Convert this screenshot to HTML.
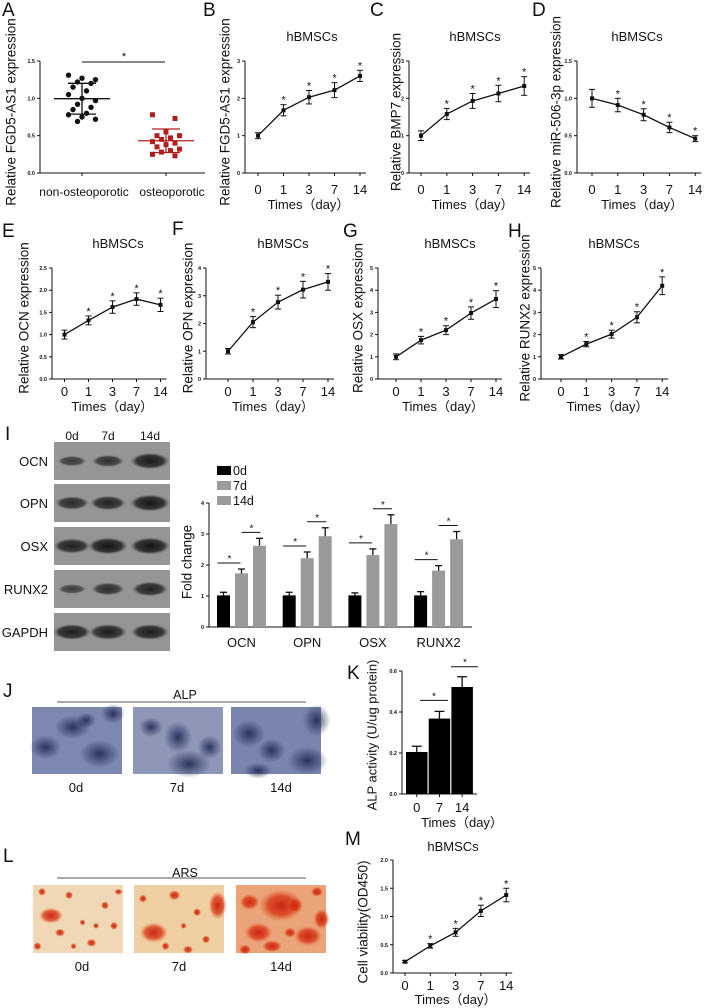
<!DOCTYPE html>
<html><head><meta charset="utf-8"><style>
html,body{margin:0;padding:0;background:#fff;}
svg{display:block;font-family:"Liberation Sans",Arial,sans-serif;}
</style></head><body>
<svg id="fig" width="709" height="1008" viewBox="0 0 709 1008" xmlns="http://www.w3.org/2000/svg">
<defs>
<radialGradient id="blueDark"><stop offset="0" stop-color="#1c2450" stop-opacity="0.85"/><stop offset="1" stop-color="#1c2450" stop-opacity="0"/></radialGradient>
<radialGradient id="redDot"><stop offset="0" stop-color="#c8200c" stop-opacity="0.95"/><stop offset="0.6" stop-color="#d83a18" stop-opacity="0.8"/><stop offset="1" stop-color="#e06030" stop-opacity="0"/></radialGradient>
<radialGradient id="band"><stop offset="0" stop-color="#151515"/><stop offset="0.7" stop-color="#2a2a2a" stop-opacity="0.9"/><stop offset="1" stop-color="#555" stop-opacity="0"/></radialGradient>
</defs>
</svg>
<script>
// ---------- DATA ----------
const aNonOsteo = [1.31,1.27,1.25,1.22,1.2,1.15,1.1,1.05,1.0,0.97,0.92,0.88,0.85,0.8,0.78,0.75,0.72,0.69];
const aOsteo = [0.78,0.73,0.55,0.5,0.5,0.47,0.45,0.42,0.4,0.38,0.35,0.32,0.3,0.28,0.25,0.23];
const aCategories = ["non-osteoporotic","osteoporotic"];
const timeCats = ["0","1","3","7","14"];
const bVals = [1.0,1.68,2.03,2.22,2.6];   const bErr = [0.08,0.15,0.18,0.2,0.15];
const cVals = [1.0,1.58,1.93,2.13,2.33];  const cErr = [0.13,0.15,0.2,0.22,0.25];
const dVals = [1.0,0.91,0.78,0.61,0.46];  const dErr = [0.12,0.09,0.08,0.07,0.04];
const eVals = [1.0,1.32,1.62,1.8,1.67];   const eErr = [0.1,0.1,0.14,0.14,0.15];
const fVals = [1.0,2.05,2.77,3.22,3.5];   const fErr = [0.1,0.2,0.25,0.3,0.3];
const gVals = [1.0,1.75,2.2,2.97,3.6];    const gErr = [0.13,0.17,0.2,0.28,0.38];
const hVals = [1.0,1.57,2.02,2.78,4.2];   const hErr = [0.1,0.12,0.18,0.25,0.4];
const mVals = [0.2,0.48,0.72,1.1,1.38];   const mErr = [0.02,0.04,0.07,0.1,0.12];
const iGroups = ["OCN","OPN","OSX","RUNX2"];
const iSeries = ["0d","7d","14d"];
const i0d = [1.02,1.02,1.02,1.02];  const i0dErr = [0.1,0.1,0.08,0.12];
const i7d = [1.73,2.22,2.32,1.82];  const i7dErr = [0.14,0.2,0.2,0.16];
const i14d = [2.62,2.93,3.32,2.83]; const i14dErr = [0.24,0.27,0.3,0.25];
const kCats = ["0","7","14"];
const kVals = [0.205,0.368,0.522]; const kErr = [0.028,0.035,0.05];
const blotProteins = ["OCN","OPN","OSX","RUNX2","GAPDH"];
const blotIntensity = [[0.45,0.6,0.95],[0.7,0.8,1.0],[0.85,1.0,1.0],[0.4,0.65,0.8],[0.9,0.9,0.9]];

// ---------- HELPERS ----------
const NS="http://www.w3.org/2000/svg";
const svg=document.getElementById('fig');
function mk(tag,attrs,parent){const e=document.createElementNS(NS,tag);for(const k in attrs)e.setAttribute(k,attrs[k]);(parent||svg).appendChild(e);return e;}
function txt(s,x,y,size,name,extra,parent){
  const e=mk('text',Object.assign({x:x,y:y,'font-size':size,'text-anchor':'middle',fill:'#111'},extra||{}),parent);
  e.textContent=s;
  
  
  return e;
}
function line(x1,y1,x2,y2,name,w,parent){
  const e=mk('line',{x1:x1,y1:y1,x2:x2,y2:y2,stroke:'#111','stroke-width':w||1},parent);
  
  
  return e;
}
function grp(name){const g=mk('g',{});
  
  
  return g;}
function yTitle(s,x,cy,size,name,parent){
  const e=txt(s,x,cy,size,name,{transform:'rotate(-90 '+x+' '+cy+')','dominant-baseline':'middle'},parent);return e;}
function yAxis(g,ax,yTop,y0,max,step,dec,prefix){
  line(ax,yTop,ax,y0,prefix+'-y-axis',1,g);
  for(let v=0;v<=max+1e-9;v+=step){
    const y=y0-v/max*(y0-yTop);
    line(ax-3,y,ax,y,prefix+'-y-tick',1,g);
    txt(v.toFixed(dec),ax-5,y+2,5.5,prefix+'-y-tick-label',{'text-anchor':'end','font-weight':'bold'},g);
  }
}

// ---------- LINE CHARTS ----------
function lineChart(o,vals,errs){
  const g=grp(o.name);
  const sy=v=>o.y0-v/o.max*(o.y0-o.yTop);
  const sx=i=>o.ax+o.first+i*o.step;
  const xEnd=sx(timeCats.length-1)+6;
  yAxis(g,o.ax,o.yTop,o.y0,o.max,o.tick,o.dec,o.name);
  line(o.ax,o.y0,xEnd,o.y0,o.name+'-x-axis',1,g);
  timeCats.forEach((c,i)=>{
    line(sx(i),o.y0,sx(i),o.y0+3,o.name+'-x-tick',1,g);
    txt(c,sx(i),o.y0+o.lo,13,o.name+'-x-tick-label',{},g);
  });
  txt('Times（day）',(o.ax+xEnd)/2+3,o.y0+o.to,13,o.name+'-x-axis-title',{},g);
  txt('hBMSCs',o.titleX,o.titleY,13,o.name+'-title',{},g);
  yTitle(o.ytitle,o.ytX,o.ytY,13.5,o.name+'-y-axis-title',g);
  txt(o.letter,o.lx,o.ly,19,o.name+'-panel-label',{'text-anchor':'start'},g);
  const pts=vals.map((v,i)=>sx(i)+','+sy(v)).join(' ');
  const pl=mk('polyline',{points:pts,fill:'none',stroke:'#111','stroke-width':1.3},g);
  
  
  vals.forEach((v,i)=>{
    const x=sx(i),yt=sy(v+errs[i]),yb=sy(v-errs[i]);
    line(x,yt,x,yb,o.name+'-error-bar',1,g);
    line(x-3,yt,x+3,yt,o.name+'-error-cap',1,g);
    line(x-3,yb,x+3,yb,o.name+'-error-cap',1,g);
    const p=mk('rect',{x:x-2,y:sy(v)-2,width:4,height:4,fill:'#111'},g);
    
    
    if(i>0) txt('*',x,yt-1,11,o.name+'-significance-star',{},g);
  });
}
const r1={yTop:61,y0:173,titleY:41,ytY:112,lo:21,to:36};
lineChart(Object.assign({name:'panel-b',ax:245,first:13,step:25.5,max:3,tick:1,dec:0,titleX:312,ytitle:'Relative FGD5-AS1 expression',ytX:226,letter:'B',lx:203,ly:16},r1),bVals,bErr);
lineChart(Object.assign({name:'panel-c',ax:409,first:12,step:25.8,max:3,tick:1,dec:0,titleX:475,ytitle:'Relative BMP7 expression',ytX:397,letter:'C',lx:370,ly:16},r1),cVals,cErr);
lineChart(Object.assign({name:'panel-d',ax:577,first:15,step:25.8,max:1.5,tick:0.5,dec:1,titleX:637,ytitle:'Relative miR-506-3p expression',ytX:557,letter:'D',lx:532,ly:16},r1),dVals,dErr);
const r2={yTop:268,y0:379,titleY:248,ytY:318,lo:17,to:32};
lineChart(Object.assign({name:'panel-e',ax:52,first:12.5,step:24,max:2.5,tick:0.5,dec:1,titleX:118,ytitle:'Relative OCN expression',ytX:25,letter:'E',lx:2,ly:237},r2),eVals,eErr);
lineChart(Object.assign({name:'panel-f',ax:206,first:22,step:25,max:4,tick:1,dec:0,titleX:283,ytitle:'Relative OPN expression',ytX:189,letter:'F',lx:172,ly:235},r2),fVals,fErr);
lineChart(Object.assign({name:'panel-g',ax:378,first:18,step:25,max:5,tick:1,dec:0,titleX:450,ytitle:'Relative OSX expression',ytX:359,letter:'G',lx:343,ly:237},r2),gVals,gErr);
lineChart(Object.assign({name:'panel-h',ax:541,first:20,step:25.3,max:5,tick:1,dec:0,titleX:614,ytitle:'Relative RUNX2 expression',ytX:526,letter:'H',lx:508,ly:237},r2),hVals,hErr);
lineChart({name:'panel-m',ax:393,first:12,step:25.3,yTop:860,y0:973,max:2,tick:0.5,dec:1,titleX:453,titleY:851,ytitle:'Cell viability(OD450)',ytX:364,ytY:922,letter:'M',lx:345,ly:845,lo:17,to:31},mVals,mErr);

// ---------- PANEL A ----------
(function(){
  const g=grp('panel-a');
  const ax=40,yTop=61,y0=173,max=1.5;
  const sy=v=>y0-v/max*(y0-yTop);
  const cx=[82,166];
  yAxis(g,ax,yTop,y0,max,0.5,1,'panel-a');
  line(ax,y0,205,y0,'panel-a-x-axis',1,g);
  cx.forEach(x=>line(x,y0,x,y0+3,'panel-a-x-tick',1,g));
  txt(aCategories[0],84,196,12,'panel-a-x-label-non-osteoporotic',{},g);
  txt(aCategories[1],172,196,12,'panel-a-x-label-osteoporotic',{},g);
  yTitle('Relative FGD5-AS1 expression',12,112,13.5,'panel-a-y-axis-title',g);
  txt('A',2,16,19,'panel-a-panel-label',{'text-anchor':'start'},g);
  line(82,62,165,62,'panel-a-significance-line',1,g);
  txt('*',124,60,11,'panel-a-significance-star',{},g);
  function stats(a){const m=a.reduce((s,v)=>s+v,0)/a.length;const sd=Math.sqrt(a.reduce((s,v)=>s+(v-m)*(v-m),0)/(a.length-1));return [m,sd];}
  aNonOsteo.forEach((v,i)=>{
    const j=((i*3)%7-3)*4.5;
    const c=mk('circle',{cx:cx[0]+j,cy:sy(v),r:2.7,fill:'#111'},g);
    
    
  });
  aOsteo.forEach((v,i)=>{
    const j=((i*5)%7-3)*4.5;
    const c=mk('rect',{x:cx[1]+j-2.5,y:sy(v)-2.5,width:5,height:5,fill:'#b21e1e'},g);
    
    
  });
  [[aNonOsteo,'#111'],[aOsteo,'#b21e1e']].forEach((d,k)=>{
    const [m,sd]=stats(d[0]);const x=cx[k];
    const a=line(x-28,sy(m),x+28,sy(m),'panel-a-mean-line',1.3,g);a.setAttribute('stroke',d[1]);
    const b=line(x,sy(m+sd),x,sy(m-sd),'panel-a-sd-bar',1.3,g);b.setAttribute('stroke',d[1]);
    const c1=line(x-14,sy(m+sd),x+14,sy(m+sd),'panel-a-sd-cap',1.3,g);c1.setAttribute('stroke',d[1]);
    const c2=line(x-14,sy(m-sd),x+14,sy(m-sd),'panel-a-sd-cap',1.3,g);c2.setAttribute('stroke',d[1]);
  });
})();

// ---------- PANEL I: BLOT ----------
(function(){
  const g=grp('panel-i-western-blot');
  txt('I',5,440,19,'panel-i-panel-label',{'text-anchor':'start'},g);
  const lanes=[72,108,150];
  iSeries.forEach((s,i)=>txt(s,lanes[i],440,12,'blot-lane-label',{},g));
  const rowsY=[442,484,527,570,613];
  blotProteins.forEach((p,r)=>{
    const y=rowsY[r];
    const box=mk('rect',{x:54,y:y,width:116,height:38,fill:'#959595'},g);
    
    
    txt(p,48,y+24,13,'blot-protein-label',{'text-anchor':'end'},g);
    blotIntensity[r].forEach((v,i)=>{
      const b=mk('ellipse',{cx:lanes[i],cy:y+19,rx:10+v*10,ry:2.5+v*6,fill:'url(#band)',opacity:0.5+v*0.5},g);
      
      
    });
  });
})();

// ---------- PANEL I: BAR CHART ----------
(function(){
  const g=grp('panel-i-bar-chart');
  const ax=209,yTop=503,y0=627,max=4;
  const sy=v=>y0-v/max*(y0-yTop);
  const gx=i=>217+i*65.7;
  const bw=13,bs=18;
  yAxis(g,ax,yTop,y0,max,1,0,'panel-i');
  line(ax,y0,472,y0,'panel-i-x-axis',1,g);
  yTitle('Fold change',188,562,13.5,'panel-i-y-axis-title',g);
  const series=[[i0d,i0dErr,'#000'],[i7d,i7dErr,'#9a9a9a'],[i14d,i14dErr,'#9a9a9a']];
  iSeries.forEach((s,k)=>{
    const r=mk('rect',{x:217,y:466+k*15,width:14,height:9,fill:series[k][2]},g);
    
    
    txt(s,233,475+k*15,12.5,'legend-label-'+s,{'text-anchor':'start'},g);
  });
  iGroups.forEach((name,i)=>{
    series.forEach((s,k)=>{
      const x=gx(i)+k*bs,v=s[0][i],e=s[1][i];
      const r=mk('rect',{x:x,y:sy(v),width:bw,height:y0-sy(v),fill:s[2]},g);
      
      
      line(x+bw/2,sy(v+e),x+bw/2,sy(v),'bar-error',1.3,g);
      line(x+bw/2-3.5,sy(v+e),x+bw/2+3.5,sy(v+e),'bar-error-cap',1.3,g);
    });
    const c0=gx(i)+bw/2,c1=c0+bs,c2=c0+2*bs;
    const y1=sy(i7d[i]+i7dErr[i])-6, y2=sy(i14d[i]+i14dErr[i])-6;
    line(c0-6,y1,c1-1,y1,'significance-line',1,g); txt('*',(c0+c1)/2-3,y1-1,10,'significance-star',{},g);
    line(c1,y2,c2+1,y2,'significance-line',1,g); txt('*',(c1+c2)/2+1,y2-1,10,'significance-star',{},g);
    txt(name,gx(i)+bs+bw/2,647,13,'panel-i-x-label',{},g);
  });
})();

// ---------- PANEL K ----------
(function(){
  const g=grp('panel-k');
  const ax=402,yTop=671,y0=794,max=0.6;
  const sy=v=>y0-v/max*(y0-yTop);
  const bx=i=>406+i*22.7;
  const bw=21.5;
  yAxis(g,ax,yTop,y0,max,0.2,1,'panel-k');
  line(ax,y0,477,y0,'panel-k-x-axis',1,g);
  txt('K',347,679,19,'panel-k-panel-label',{'text-anchor':'start'},g);
  yTitle('ALP activity (U/ug protein)',373,735,13,'panel-k-y-axis-title',g);
  kCats.forEach((c,i)=>{
    const x=bx(i),v=kVals[i],e=kErr[i];
    const r=mk('rect',{x:x,y:sy(v),width:bw,height:y0-sy(v),fill:'#000'},g);
    
    
    line(x+bw/2,sy(v+e),x+bw/2,sy(v),'bar-error',1.3,g);
    line(x+bw/2-5,sy(v+e),x+bw/2+5,sy(v+e),'bar-error-cap',1.3,g);
    line(x+bw/2,y0,x+bw/2,y0+3,'panel-k-x-tick',1,g);
    txt(c,x+bw/2,812,13,'panel-k-x-tick-label',{},g);
  });
  txt('Times（day）',462,827,13,'panel-k-x-axis-title',{},g);
  const ya=sy(kVals[1]+kErr[1])-11, yb=sy(kVals[2]+kErr[2])-10;
  line(420,ya,448,ya,'significance-line',1,g); txt('*',434,ya-1,10,'significance-star',{},g);
  line(451,yb,478,yb,'significance-line',1,g); txt('*',465,yb-1,10,'significance-star',{},g);
})();

// ---------- PANELS J / L (staining images) ----------
function stain(name,letter,ly,title,ty,lineY,imgY,imgH,xs,labY,labX,base,blobFill,blobs){
  const g=grp(name);
  txt(letter,3,ly,19,name+'-panel-label',{'text-anchor':'start'},g);
  txt(title,185,ty,12.5,name+'-title',{},g);
  const l=line(57,lineY,306,lineY,name+'-title-line',1,g);l.setAttribute('stroke','#555');
  xs.forEach((x,i)=>{
    const r=mk('rect',{x:x,y:imgY,width:90,height:imgH,fill:base[i]},g);
    
    
    blobs[i].forEach(b=>{
      const e=mk('ellipse',{cx:x+b[0]*90,cy:imgY+b[1]*imgH,rx:b[2],ry:b[3],fill:blobFill},g);
      
      
    });
    txt(['0d','7d','14d'][i],labX[i],labY,13,name+'-image-label',{},g);
  });
}
stain('panel-j','J',697,'ALP',699,702,707,67,[32,133,231],792,[76,177,281],
 ['#7d88b0','#8e97b8','#7a85ae'],'url(#blueDark)',
 [[[0.75,0.7,20,14],[0.45,0.3,18,12],[0.15,0.6,16,12],[0.9,0.1,12,10],[0.6,0.2,10,8]],
  [[0.5,0.45,14,16],[0.62,0.85,22,14],[0.85,0.6,12,12],[0.2,0.3,12,10]],
  [[0.2,0.4,16,14],[0.85,0.8,20,14],[0.45,0.65,14,12],[0.95,0.2,14,16],[0.3,0.95,14,8]]]);
stain('panel-l','L',862,'ARS',877,878,885,68,[33,134,236],971,[82,179,281],
 ['#f0d8b6','#efcfa2','#eba37a'],'url(#redDot)',
 [[[0.2,0.45,12,8],[0.1,0.1,4,4],[0.4,0.15,4,4],[0.8,0.3,4,4],[0.3,0.7,5,4],[0.65,0.85,5,4],[0.9,0.6,4,4],[0.55,0.55,3,3],[0.05,0.9,4,4],[0.95,0.1,4,3],[0.7,0.6,3,3],[0.45,0.9,3,3]],
  [[0.22,0.7,14,10],[0.93,0.3,9,14],[0.45,0.15,6,5],[0.6,0.95,5,4],[0.35,0.9,4,4],[0.7,0.4,4,4],[0.1,0.2,4,4],[0.8,0.8,4,4],[0.55,0.6,3,3]],
  [[0.5,0.3,22,16],[0.25,0.7,14,10],[0.8,0.75,14,10],[0.65,0.3,8,8],[0.15,0.25,10,8],[0.95,0.5,8,10],[0.4,0.9,10,6],[0.1,0.95,6,5],[0.6,0.7,6,5],[0.9,0.1,6,5]]]);
</script>
</body></html>
